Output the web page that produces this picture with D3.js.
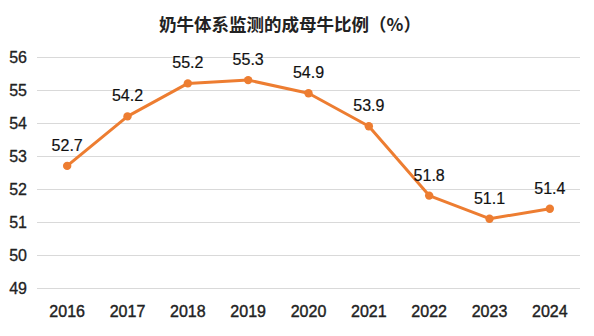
<!DOCTYPE html>
<html><head><meta charset="utf-8">
<script src="https://cdn.jsdelivr.net/npm/d3@7"></script>
<style>body{margin:0;background:#fff}</style>
</head><body>
<svg id="c" width="594" height="336"></svg>
<script>
const years = ["2016","2017","2018","2019","2020","2021","2022","2023","2024"];
const values = [52.7,54.2,55.2,55.3,54.9,53.9,51.8,51.1,51.4];
const yTicks = [49,50,51,52,53,54,55,56];
const title = "奶牛体系监测的成母牛比例（%）";

const svg = d3.select("#c");
const x = d3.scaleBand().domain(years).range([37,580]);
const y = d3.scaleLinear().domain([49,56]).range([288,57]);
const cx = d => x(d) + x.bandwidth()/2;

svg.append("text").attr("x",290).attr("y",31).attr("text-anchor","middle")
  .attr("font-family","'Noto Sans CJK SC'").attr("font-size",17.5).attr("font-weight","bold")
  .attr("fill","#222").text(title);

const gy = svg.append("g").attr("transform","translate(37,0)")
  .call(d3.axisLeft(y).tickValues(yTicks).tickSize(-543).tickPadding(10).tickFormat(d3.format("d")));
gy.select(".domain").remove();
gy.selectAll("line").attr("stroke","#d9d9d9").attr("stroke-width",1);
gy.selectAll("text").attr("font-family","'Liberation Sans', Arial").attr("font-size",16).attr("fill","#222")
  .attr("stroke","#222").attr("stroke-width",0.3);

const gx = svg.append("g").attr("transform","translate(0,288)")
  .call(d3.axisBottom(x).tickSize(0).tickPadding(18));
gx.select(".domain").remove();
gx.selectAll("text").attr("font-family","'Liberation Sans', Arial").attr("font-size",16).attr("fill","#222")
  .attr("stroke","#222").attr("stroke-width",0.4);

const data = years.map((d,i)=>({year:d,v:values[i]}));
svg.append("path").datum(data)
  .attr("d", d3.line().x(d=>cx(d.year)).y(d=>y(d.v)))
  .attr("fill","none").attr("stroke","#ED7D31").attr("stroke-width",3).attr("stroke-linejoin","round");
svg.selectAll("circle.p").data(data).join("circle").attr("class","p")
  .attr("cx",d=>cx(d.year)).attr("cy",d=>y(d.v)).attr("r",4.2).attr("fill","#ED7D31");
svg.selectAll("text.lbl").data(data).join("text").attr("class","lbl")
  .attr("x",d=>cx(d.year)).attr("y",d=>y(d.v)-15).attr("text-anchor","middle")
  .attr("font-family","'Liberation Sans', Arial").attr("font-size",16).attr("fill","#111")
  .attr("stroke","#111").attr("stroke-width",0.2)
  .text(d=>d.v.toFixed(1));
</script>
</body></html>
